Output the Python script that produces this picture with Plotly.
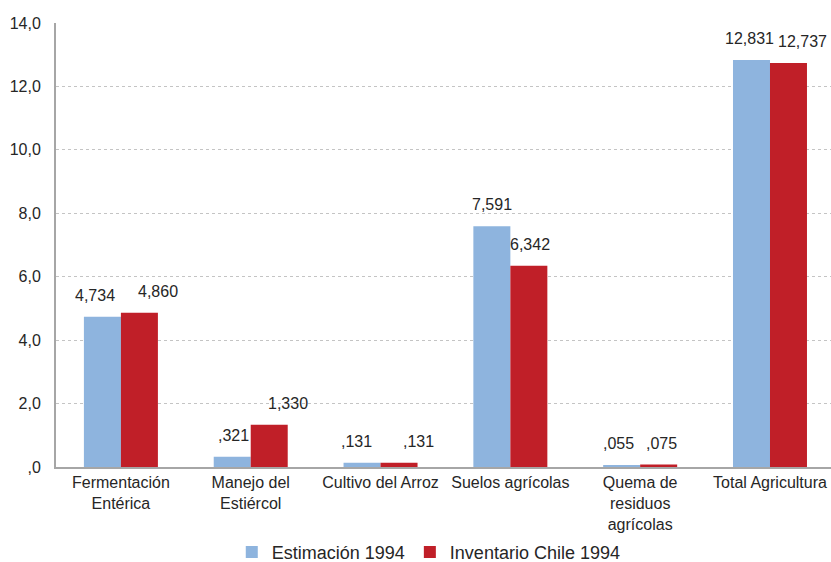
import plotly.graph_objects as go

categories = ["Fermentación<br>Entérica", "Manejo del<br>Estiércol", "Cultivo del Arroz",
              "Suelos agrícolas", "Quema de<br>residuos<br>agrícolas", "Total Agricultura"]
estimacion = [4.734, 0.321, 0.131, 7.591, 0.055, 12.831]
inventario = [4.860, 1.330, 0.131, 6.342, 0.075, 12.737]
estimacion_labels = ["4,734", ",321", ",131", "7,591", ",055", "12,831"]
inventario_labels = ["4,860", "1,330", ",131", "6,342", ",075", "12,737"]
y_ticks = [0, 2, 4, 6, 8, 10, 12, 14]
y_tick_labels = [",0", "2,0", "4,0", "6,0", "8,0", "10,0", "12,0", "14,0"]

# label horizontal nudges (pixels), style only
est_dx = [-7, 1, -6, 0, -3, -2]
inv_dx = [19, 19, 19, 1, 3, 14]

BLUE = "#8EB4DE"
RED = "#C01F28"
FONT = "Liberation Sans, Arial, sans-serif"

fig = go.Figure()
fig.add_trace(go.Bar(name="Estimación 1994", x=categories, y=estimacion,
                     marker=dict(color=BLUE, line=dict(width=0))))
fig.add_trace(go.Bar(name="Inventario Chile 1994", x=categories, y=inventario,
                     marker=dict(color=RED, line=dict(width=0))))

bw = 37
for i, c in enumerate(categories):
    fig.add_annotation(x=c, y=estimacion[i], text=estimacion_labels[i], showarrow=False,
                       xshift=-bw / 2 + est_dx[i], yshift=11, yanchor="bottom",
                       font=dict(size=16, color="#262626", family=FONT))
    fig.add_annotation(x=c, y=inventario[i], text=inventario_labels[i], showarrow=False,
                       xshift=bw / 2 + inv_dx[i], yshift=11, yanchor="bottom",
                       font=dict(size=16, color="#262626", family=FONT))

fig.update_layout(
    width=831, height=562,
    margin=dict(l=56, r=0, t=23, b=95, autoexpand=False),
    paper_bgcolor="white", plot_bgcolor="white",
    barmode="group", bargap=0.43, bargroupgap=0,
    font=dict(family=FONT, size=16, color="#262626"),
    showlegend=True,
    legend=dict(orientation="h", x=0.481, xanchor="center", y=-0.192, yanchor="middle",
                font=dict(size=18, color="#262626", family=FONT),
                bgcolor="rgba(0,0,0,0)",
                itemwidth=30, tracegroupgap=0),
    xaxis=dict(range=[-0.5, 5.47], showgrid=False, showline=True, linecolor="#A6A6A6",
               linewidth=2, ticks="", tickfont=dict(size=16, family=FONT, color="#262626"),
               tickangle=0, automargin=False),
    yaxis=dict(range=[0, 14], tickvals=y_ticks, ticktext=y_tick_labels,
               showgrid=True, gridcolor="#C4C4C4", griddash="dot", gridwidth=1,
               showline=True, linecolor="#A6A6A6", linewidth=2, ticks="",
               zeroline=False, ticklabelstandoff=10, automargin=False,
               tickfont=dict(size=16, family=FONT, color="#262626")),
)

fig.write_html("out.html", config={"displayModeBar": False},
               post_script="document.body.style.margin='0';document.body.style.overflow='hidden';")
